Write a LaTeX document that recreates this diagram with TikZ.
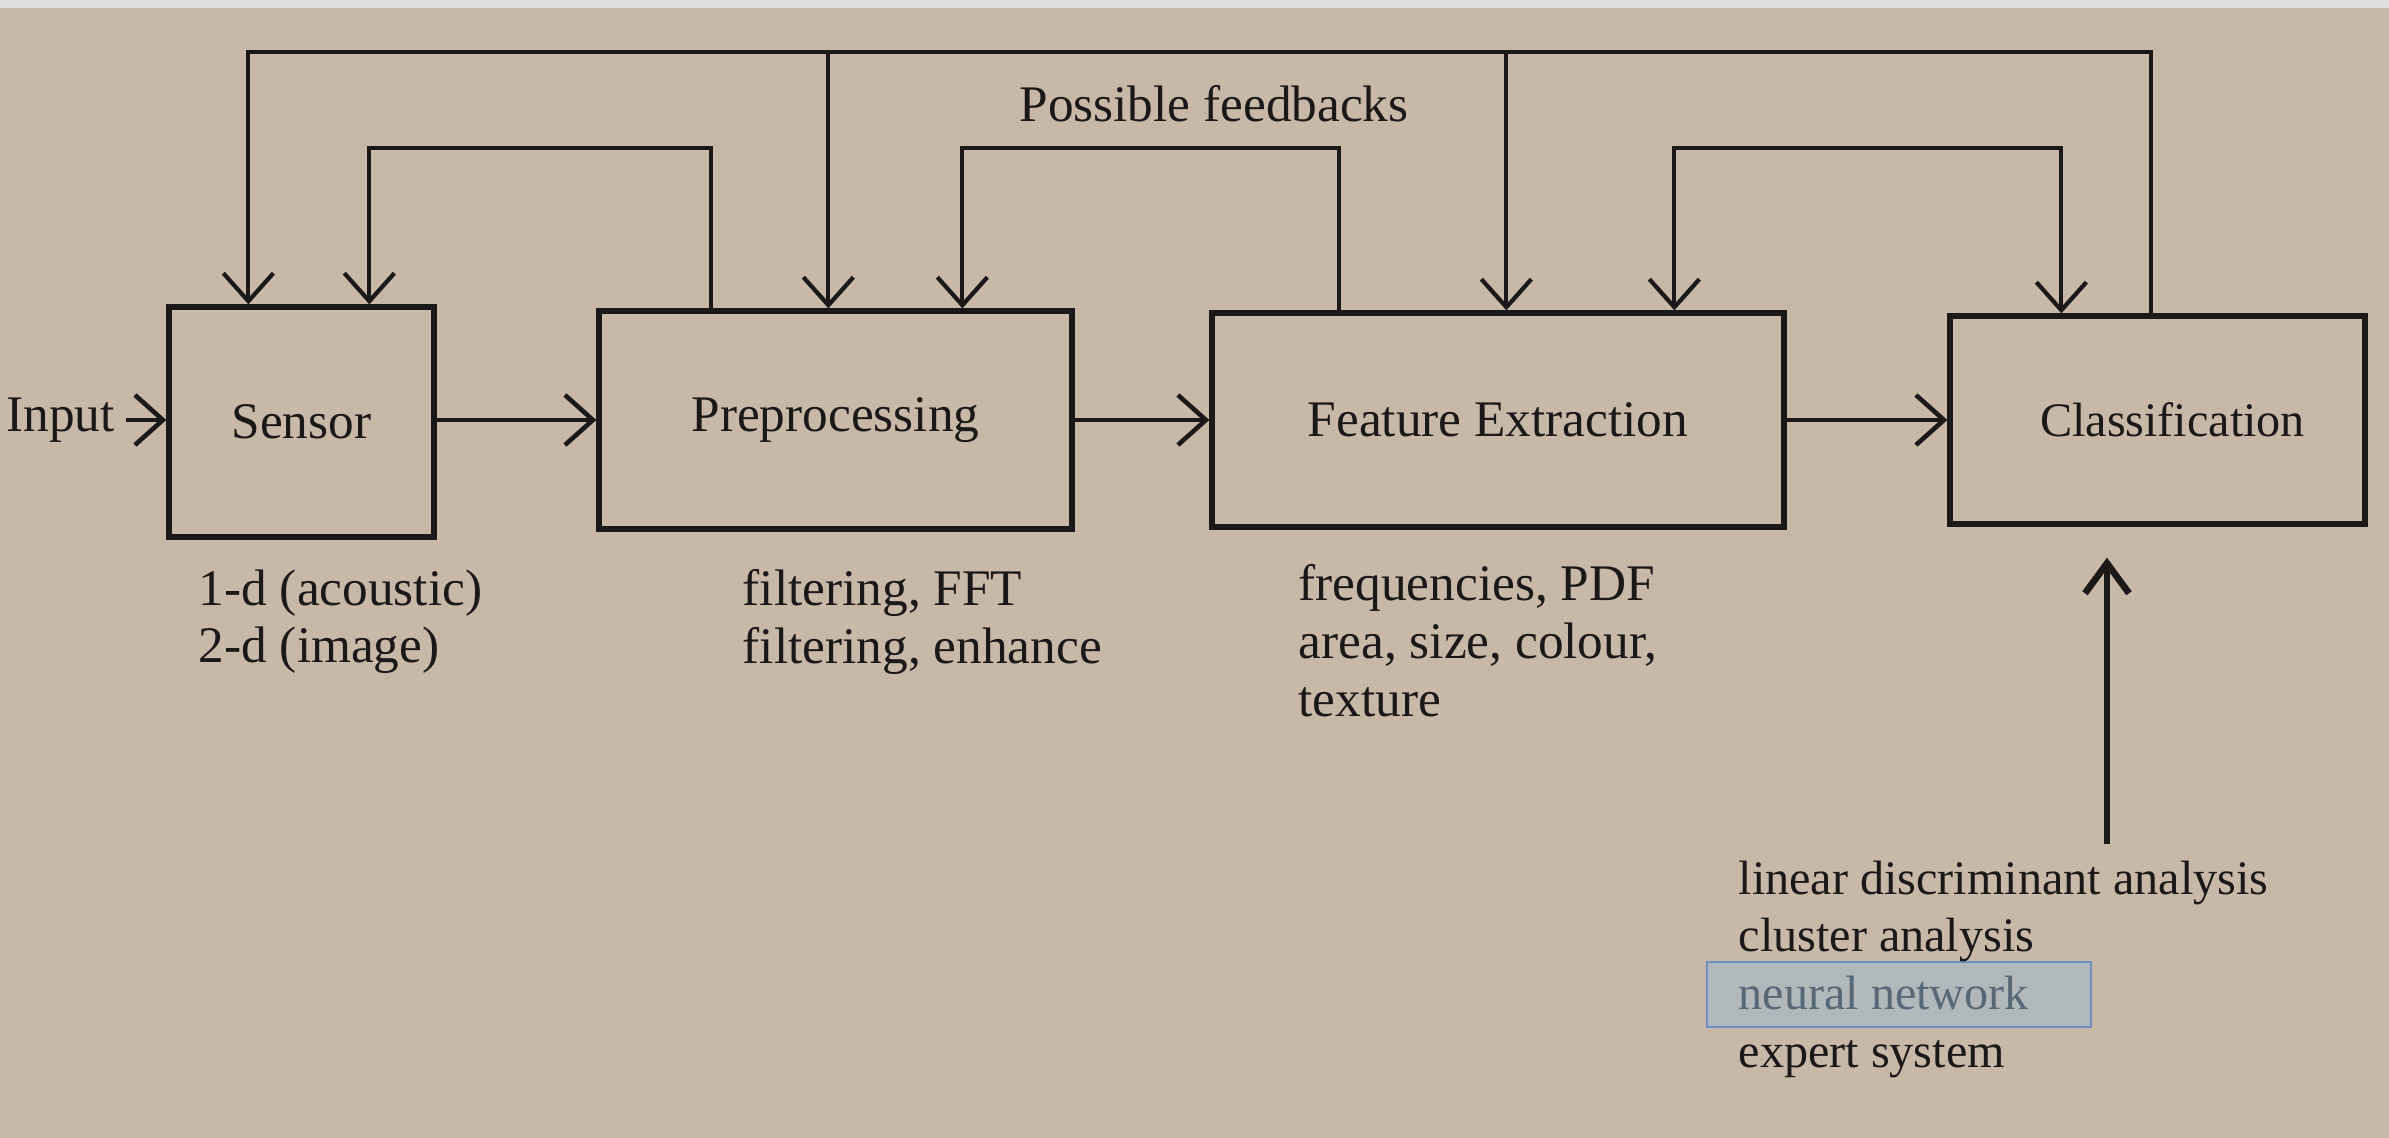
\documentclass[tikz,border=0pt]{standalone}
\usepackage{fontspec}
\setmainfont{Liberation Serif}
\usepackage{tikz}
\usetikzlibrary{arrows.meta}

\definecolor{paper}{RGB}{199,184,168}
\definecolor{strip}{RGB}{222,222,220}
\definecolor{ink}{RGB}{28,24,24}
\definecolor{hlfill}{RGB}{176,184,188}
\definecolor{hldraw}{RGB}{105,145,195}
\definecolor{hltext}{RGB}{88,104,118}

\tikzset{
  block/.style={draw=ink, line width=1.5pt, rectangle, inner sep=0pt},
  fb/.style={draw=ink, line width=1.2pt},
  conn/.style={draw=ink, line width=1.3pt},
  txt/.style={text=ink, font=\fontsize{14.6}{16.4}\selectfont},
  small/.style={font=\fontsize{13.7}{16.4}\selectfont},
}

\begin{document}
\begin{tikzpicture}[>={Straight Barb[length=2.8mm,width=5mm]}, txt]
    \fill[paper] (0,0) rectangle (23.89,-11.38);
    \fill[strip] (0,0) rectangle (23.89,-0.08);
    \useasboundingbox (0,0) rectangle (23.89,-11.38);

    % the four stages
    \node[block, minimum width=2.65cm, minimum height=2.30cm] (sensor) at (3.015,-4.22) {Sensor};
    \node[block, minimum width=4.73cm, minimum height=2.18cm] (preproc) at (8.355,-4.20) {Preprocessing};
    \node[block, minimum width=5.72cm, minimum height=2.14cm] (featx) at (14.98,-4.20) {Feature Extraction};
    \node[block, small, minimum width=4.15cm, minimum height=2.08cm] (classif) at (21.575,-4.20) {\hspace*{0.3cm}Classification};
    \node[anchor=east, inner sep=3pt] (input) at (1.26,-4.20) {Input};

    \draw[conn,->] (input) -- (input -| sensor.west);
    \draw[conn,->] (sensor.east |- input) -- (input -| preproc.west);
    \draw[conn,->] (preproc) -- (featx);
    \draw[conn,->] (featx) -- (classif);

    % feedback points on the box tops
    \coordinate (top) at (0,-0.52);
    \coordinate (mid) at (0,-1.48);
    \coordinate (s1) at ([xshift=0.82cm]sensor.north west);
    \coordinate (s2) at ([xshift=2.03cm]sensor.north west);
    \coordinate (p0) at ([xshift=1.15cm]preproc.north west);
    \coordinate (p1) at ([xshift=2.32cm]preproc.north west);
    \coordinate (p2) at ([xshift=3.66cm]preproc.north west);
    \coordinate (f0) at ([xshift=1.30cm]featx.north west);
    \coordinate (f1) at ([xshift=2.97cm]featx.north west);
    \coordinate (f2) at ([xshift=4.65cm]featx.north west);
    \coordinate (c2) at ([xshift=1.14cm]classif.north west);
    \coordinate (c1) at ([xshift=2.04cm]classif.north west);

    \draw[fb,->] (c1) |- (top -| s1) -- (s1);
    \draw[fb,->] (top -| p1) -- (p1);
    \draw[fb,->] (top -| f1) -- (f1);

    \draw[fb,->] (p0) |- (mid -| s2) -- (s2);
    \draw[fb,->] (f0) |- (mid -| p2) -- (p2);
    \draw[fb,<->] (f2) |- (mid -| c2) -- (c2);

    \node[anchor=base] (fbnote) at (12.14,-1.22) {Possible feedbacks};

    % notes under the stages
    \node[anchor=north west, align=left, inner sep=0pt] (sensorlbl) at (1.98,-5.69) {1-d (acoustic)\\2-d (image)};
    \node[anchor=north west, align=left, inner sep=0pt] (prelbl) at (7.42,-5.69) {filtering, FFT\\filtering, enhance};
    \node[anchor=north west, align=left, inner sep=0pt] (featlbl) at (12.98,-5.64) {frequencies, PDF\\area, size, colour,\\texture};

    \filldraw[fill=hlfill, draw=hldraw, line width=0.6pt] (17.07,-9.62) rectangle (20.91,-10.27);
    \node[small, anchor=north west, align=left, inner sep=0pt] (methods) at (17.38,-8.60) {linear discriminant analysis\\cluster analysis\\\textcolor{hltext}{neural network}\\expert system};

    \coordinate (cin) at ([xshift=-5.05mm,yshift=-3.1mm]classif.south);
    \draw[draw=ink, line width=1.9pt, -{Straight Barb[length=3mm,width=4.4mm]}, shorten <=1.6mm] (methods.north -| cin) -- (cin);
\end{tikzpicture}
\end{document}
